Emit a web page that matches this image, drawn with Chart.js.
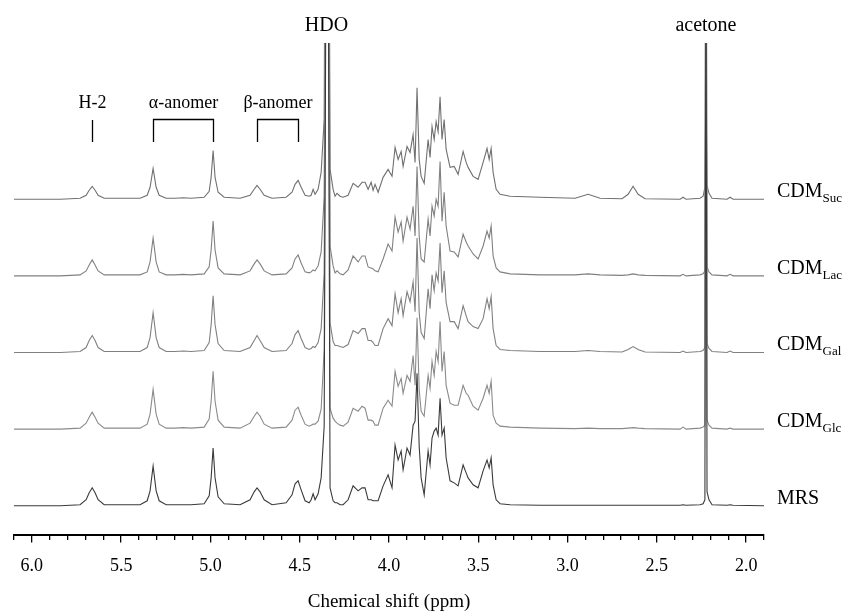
<!DOCTYPE html>
<html lang="en">
<head>
<meta charset="UTF-8">
<title>1H NMR spectra</title>
<script src="https://cdn.jsdelivr.net/npm/chart.js@4.4.0/dist/chart.umd.min.js"></script>
<style>
    html, body { margin: 0; padding: 0; background: #fff; }
    #wrap { width: 844px; height: 611px; }
</style>
</head>
<body>
<div id="wrap"><canvas id="nmr" width="844" height="611"></canvas></div>
<script>
// chemical shift (ppm) of every sampled point
const shifts = [
    6.10, 5.84, 5.73, 5.696, 5.679, 5.662, 5.646, 5.629, 5.595, 5.394,
    5.354, 5.338, 5.321, 5.304, 5.287, 5.248, 5.198, 5.153, 5.108, 5.035,
    5.007, 4.996, 4.985, 4.974, 4.957, 4.923, 4.834, 4.778, 4.755, 4.739,
    4.722, 4.699, 4.655, 4.576, 4.543, 4.526, 4.509, 4.492, 4.470, 4.447,
    4.436, 4.425, 4.414, 4.397, 4.380, 4.363, 4.352, 4.341, 4.330, 4.313,
    4.302, 4.291, 4.274, 4.257, 4.229, 4.201, 4.173, 4.151, 4.134, 4.117,
    4.100, 4.089, 4.078, 4.061, 4.033, 4.005, 3.983, 3.966, 3.949, 3.932,
    3.921, 3.899, 3.882, 3.865, 3.854, 3.843, 3.831, 3.820, 3.803, 3.781,
    3.770, 3.759, 3.747, 3.736, 3.725, 3.714, 3.703, 3.691, 3.680, 3.658,
    3.635, 3.613, 3.585, 3.568, 3.557, 3.529, 3.501, 3.473, 3.451, 3.439,
    3.428, 3.417, 3.400, 3.378, 3.322, 3.154, 2.958, 2.885, 2.818, 2.695,
    2.661, 2.633, 2.605, 2.566, 2.370, 2.353, 2.337, 2.258, 2.241, 2.231,
    2.225, 2.219, 2.208, 2.191, 2.107, 2.090, 2.073, 1.90
];

// intensities (arbitrary units), one array per medium
const mrs = [
    0, 0, 1, 6, 13, 18, 13, 6, 1, 1,
    5, 15, 40, 15, 5, 1, 1, 1, 1, 2,
    10, 28, 58, 28, 9, 2, 1, 6, 14, 18,
    14, 6, 1, 3, 11, 22, 25, 16, 5, 3,
    6, 12, 6, 12, 28, 80, 600, 600, 18, 5,
    3, 3, 1, 1, 6, 20, 15, 18, 18, 6,
    6, 5, 5, 5, 20, 31, 18, 61, 46, 55,
    36, 58, 51, 81, 85, 133, 60, 28, 11, 55,
    41, 68, 75, 78, 71, 108, 71, 78, 48, 25,
    23, 20, 41, 33, 28, 21, 18, 35, 46, 38,
    48, 21, 6, 2, 1, 0.5, 0.5, 0.5, 0.5, 0.5,
    0.5, 0.5, 0.5, 0.5, 0.5, 1, 0.5, 1, 2, 6,
    600, 14, 6, 1, 0.5, 1, 0.5, 0
];
const cdmGlc = [
    0, 0, 1, 6, 12, 17, 12, 6, 1, 1,
    5, 15, 40, 15, 5, 1, 1, 1.5, 1, 2,
    10, 28, 58, 28, 9, 2, 1, 6, 13, 17,
    13, 5, 1, 2, 9, 19, 22, 14, 5, 3,
    4, 5, 5, 8, 20, 80, 600, 600, 21, 11,
    8, 6, 4, 3, 7, 21, 18, 23, 21, 9,
    9, 8, 4, 4, 21, 29, 23, 58, 43, 51,
    36, 54, 48, 74, 44, 112, 40, 18, 13, 54,
    41, 68, 54, 78, 68, 108, 58, 78, 44, 26,
    24, 24, 44, 36, 34, 23, 19, 31, 44, 36,
    48, 14, 6, 3, 2, 1, 0.5, 1, 0.5, 0.5,
    1, 1.5, 1, 0.5, 0, 2, 0, 1, 2, 4,
    600, 9, 4, 1, 0, 1, 0, 0
];
const cdmGal = [
    0, 0, 1, 5, 12, 17, 12, 5, 1, 1,
    5, 15, 40, 15, 5, 1, 1, 1.5, 1, 2,
    10, 28, 57, 28, 9, 2, 1, 5, 12, 17,
    12, 5, 1, 2, 9, 18, 22, 14, 5, 3,
    4, 6, 5, 10, 24, 80, 600, 600, 30, 11,
    7, 7, 6, 5, 8, 22, 19, 24, 24, 12,
    12, 10, 7, 7, 24, 34, 27, 59, 40, 54,
    37, 61, 51, 71, 41, 115, 40, 20, 14, 64,
    44, 78, 62, 80, 72, 110, 60, 82, 50, 31,
    31, 24, 47, 37, 31, 26, 24, 34, 54, 44,
    56, 24, 7, 3, 2, 1, 1, 2, 1, 0.5,
    3, 6, 3, 0.5, 0, 1.5, 0, 1, 2, 5,
    600, 9, 4, 1, 0, 1.5, 0, 0
];
const cdmLac = [
    0, 0, 1, 5, 11, 16, 11, 5, 1, 1,
    4, 14, 38, 14, 4, 1, 1, 1.5, 1, 2,
    9, 26, 55, 26, 8, 2, 1, 5, 12, 16,
    12, 5, 1, 2, 8, 17, 21, 13, 4, 3,
    4, 6, 5, 10, 24, 80, 600, 600, 30, 10,
    3, 5, 2, 1, 6, 20, 14, 20, 20, 9,
    8, 7, 5, 4, 17, 32, 25, 59, 44, 54,
    35, 59, 47, 70, 40, 110, 40, 17, 14, 57,
    40, 70, 60, 77, 70, 115, 55, 84, 50, 25,
    24, 19, 42, 34, 30, 22, 17, 30, 45, 38,
    50, 20, 8, 4, 2, 1, 1, 2, 1, 0.5,
    1, 2, 1, 0.5, 0, 1.5, 0, 1, 2, 5,
    600, 9, 4, 1, 0, 1.5, 0, 0
];
const cdmSuc = [
    0, 0, 1, 4, 9, 13, 9, 4, 1, 1,
    4, 12, 31, 12, 4, 1, 1, 1.5, 1, 2,
    8, 22, 49, 22, 7, 2, 1, 4, 10, 14,
    10, 4, 1, 2, 7, 15, 19, 12, 4, 3,
    4, 10, 5, 10, 27, 80, 600, 600, 30, 10,
    3, 6, 3, 2, 4, 16, 12, 17, 17, 10,
    17, 9, 15, 7, 22, 30, 23, 52, 40, 48,
    33, 53, 47, 65, 37, 112, 40, 23, 16, 60,
    42, 73, 60, 78, 68, 103, 60, 80, 50, 32,
    33, 25, 48, 37, 32, 23, 20, 37, 51, 40,
    51, 27, 10, 5, 3, 2, 1, 5, 1, 0.5,
    5, 13, 5, 0.5, 0, 2, 0, 1, 3, 12,
    118, 14, 6, 1, 0, 2, 0, 0
];

// bottom to top
const media = [
    { name: 'MRS', sub: '', values: mrs, color: '#3a3a3a' },
    { name: 'CDM', sub: 'Glc', values: cdmGlc, color: '#8a8a8a' },
    { name: 'CDM', sub: 'Gal', values: cdmGal, color: '#808080' },
    { name: 'CDM', sub: 'Lac', values: cdmLac, color: '#808080' },
    { name: 'CDM', sub: 'Suc', values: cdmSuc, color: '#707070' }
];
const stackGap = 77;   // vertical spacing between the spectra

// assignments marked above the spectra
const singleMarks = [{ text: 'H-2', ppm: 5.662 }];
const bracketMarks = [
    { text: 'α-anomer', from: 5.321, to: 4.985 },
    { text: 'β-anomer', from: 4.739, to: 4.509 }
];
const topMarks = [{ text: 'HDO', ppm: 4.35 }, { text: 'acetone', ppm: 2.225 }];

const serif = '"Liberation Serif", "Times New Roman", serif';

const labels = {
    id: 'labels',
    afterDatasetsDraw(chart) {
        const { ctx, chartArea } = chart;
        const x = chart.scales.x, y = chart.scales.y;
        const top = chartArea.top;
        ctx.save();
        ctx.fillStyle = '#000';
        ctx.strokeStyle = '#000';
        ctx.lineWidth = 1.3;
        ctx.textAlign = 'center';
        ctx.textBaseline = 'middle';
        ctx.font = '20px ' + serif;
        topMarks.forEach(m => ctx.fillText(m.text, x.getPixelForValue(m.ppm), top - 17));

        ctx.font = '18px ' + serif;
        singleMarks.forEach(m => {
            const px = Math.round(x.getPixelForValue(m.ppm)) + 0.5;
            ctx.fillText(m.text, px, top + 60);
            ctx.beginPath();
            ctx.moveTo(px, top + 77);
            ctx.lineTo(px, top + 99);
            ctx.stroke();
        });
        bracketMarks.forEach(m => {
            const a = Math.round(x.getPixelForValue(m.from)) + 0.5;
            const b = Math.round(x.getPixelForValue(m.to)) + 0.5;
            ctx.fillText(m.text, (a + b) / 2, top + 60);
            ctx.beginPath();
            ctx.moveTo(a, top + 99);
            ctx.lineTo(a, top + 76.5);
            ctx.lineTo(b, top + 76.5);
            ctx.lineTo(b, top + 99);
            ctx.stroke();
        });

        // medium names at the right end of each trace
        ctx.textAlign = 'left';
        ctx.textBaseline = 'alphabetic';
        media.forEach((m, k) => {
            const base = y.getPixelForValue(k * stackGap) - 2;
            const left = chartArea.right + 13;
            ctx.font = '20px ' + serif;
            ctx.fillText(m.name, left, base);
            if (m.sub) {
                const w = ctx.measureText(m.name).width;
                ctx.font = '13px ' + serif;
                ctx.fillText(m.sub, left + w, base + 5);
            }
        });
        ctx.restore();
    }
};

const datasets = media.map((m, k) => ({
    label: m.sub ? m.name + ' ' + m.sub : m.name,
    data: shifts.map((s, i) => ({ x: s, y: m.values[i] + k * stackGap })),
    borderColor: m.color,
    borderWidth: 1.1,
    pointRadius: 0,
    tension: 0,
    fill: false
}));

const isMajor = v => Math.abs(v * 2 - Math.round(v * 2)) < 1e-6;

new Chart(document.getElementById('nmr'), {
    type: 'line',
    data: { datasets },
    options: {
        responsive: false,
        animation: false,
        layout: { padding: { left: 14, right: 80, top: 43, bottom: -2 } },
        plugins: { legend: { display: false }, tooltip: { enabled: false } },
        scales: {
            x: {
                type: 'linear',
                reverse: true,
                min: 1.9,
                max: 6.1,
                border: { color: '#000', width: 2 },
                grid: {
                    drawOnChartArea: false,
                    color: '#000',
                    lineWidth: 1.3,
                    tickLength: 8,
                    tickBorderDash: ctx => (ctx.tick && isMajor(ctx.tick.value)) ? [] : [4, 20]
                },
                ticks: {
                    stepSize: 0.1,
                    autoSkip: false,
                    maxRotation: 0,
                    padding: 13,
                    color: '#000',
                    font: { family: serif, size: 18 },
                    callback: v => isMajor(v) ? v.toFixed(1) : ''
                },
                title: {
                    display: true,
                    text: 'Chemical shift (ppm)',
                    color: '#000',
                    font: { family: serif, size: 19 },
                    padding: { top: 0, bottom: 0 }
                }
            },
            y: {
                display: false,
                min: -29,
                max: 465
            }
        }
    },
    plugins: [labels]
});
</script>
</body>
</html>
